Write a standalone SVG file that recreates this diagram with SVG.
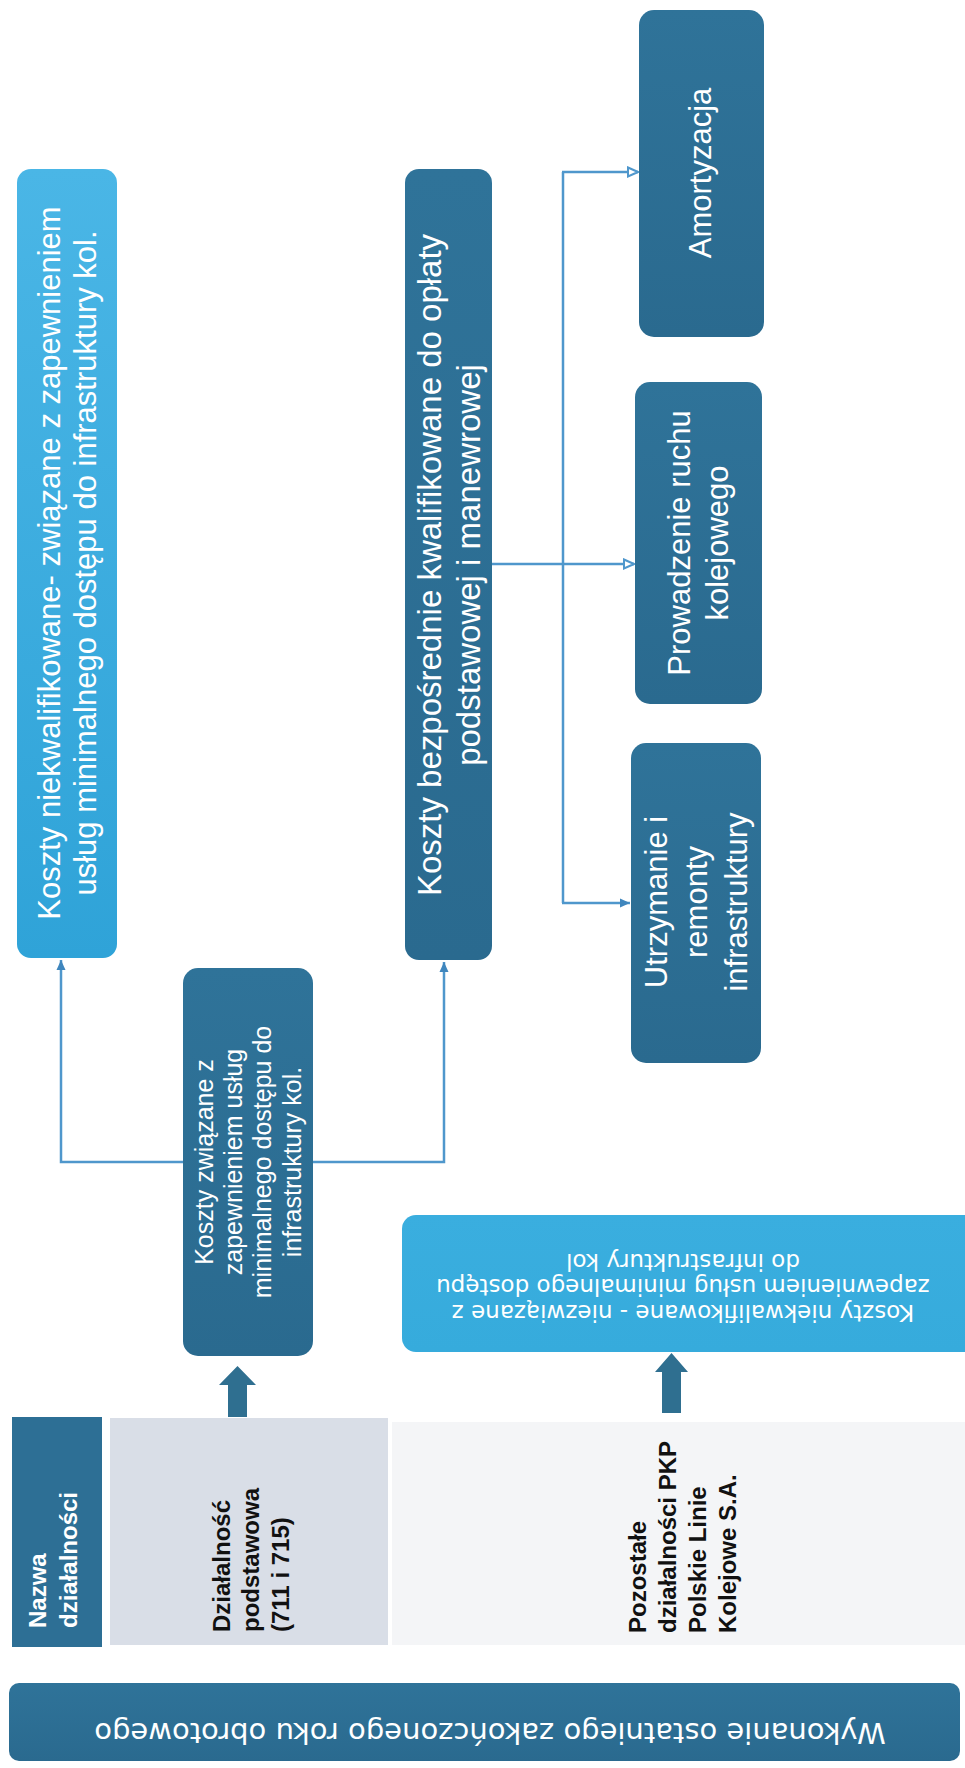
<svg xmlns="http://www.w3.org/2000/svg" width="965" height="1768" viewBox="0 0 965 1768">
  <defs>
    <linearGradient id="gLight" x1="0" y1="0" x2="0" y2="1">
      <stop offset="0" stop-color="#4ab6e6"/>
      <stop offset="1" stop-color="#2fa3d8"/>
    </linearGradient>
    <linearGradient id="gLightH" x1="0" y1="0" x2="0" y2="1">
      <stop offset="0" stop-color="#3aaedf"/>
      <stop offset="1" stop-color="#36abdc"/>
    </linearGradient>
    <linearGradient id="gDark" x1="0" y1="0" x2="0" y2="1">
      <stop offset="0" stop-color="#2f7399"/>
      <stop offset="1" stop-color="#2a6a8f"/>
    </linearGradient>
    <marker id="arrOpen" viewBox="0 0 12 12" refX="11" refY="6" markerWidth="12" markerHeight="12" markerUnits="userSpaceOnUse" orient="auto">
      <path d="M1,1.5 L11,6 L1,10.5 Z" fill="#ffffff" stroke="#4f97cc" stroke-width="2"/>
    </marker>
    <marker id="arrFill" viewBox="0 0 12 12" refX="11" refY="6" markerWidth="12" markerHeight="12" markerUnits="userSpaceOnUse" orient="auto">
      <path d="M1,1.5 L11,6 L1,10.5 Z" fill="#3f86bd"/>
    </marker>
    <style>
      .dark { fill: url(#gDark); }
      .light { fill: url(#gLight); }
      .conn { fill: none; stroke: #4f97cc; stroke-width: 2.5; }
      .wt { fill: #ffffff; font-family: "Liberation Sans", Arial, sans-serif; text-anchor: middle; dominant-baseline: central; }
      .wd { fill: #ffffff; font-family: "DejaVu Sans", Verdana, sans-serif; text-anchor: middle; dominant-baseline: central; }
      .tb { font-family: "Liberation Sans", Arial, sans-serif; font-weight: bold; font-size: 24px; }
      .thick { fill: #2f6f90; }
    </style>
  </defs>
  <rect x="0" y="0" width="965" height="1768" fill="#ffffff"/>

  <!-- Table area -->
  <g id="table">
    <rect x="12" y="1417" width="90" height="230" fill="#2d6f95"/>
    <rect x="110" y="1418" width="278" height="227" fill="#d9dee7"/>
    <rect x="392" y="1422" width="573" height="223" fill="#f4f5f7"/>
    <text class="tb" fill="#ffffff" font-size="26" transform="translate(46,1628) rotate(-90)">Nazwa</text>
    <text class="tb" fill="#ffffff" font-size="26" transform="translate(77,1628) rotate(-90)">działalności</text>
    <text class="tb" fill="#111111" transform="translate(230,1632) rotate(-90)">Działalność</text>
    <text class="tb" fill="#111111" transform="translate(259,1632) rotate(-90)">podstawowa</text>
    <text class="tb" fill="#111111" transform="translate(289,1632) rotate(-90)">(711 i 715)</text>
    <text class="tb" fill="#111111" transform="translate(646,1633) rotate(-90)">Pozostałe</text>
    <text class="tb" fill="#111111" transform="translate(676,1633) rotate(-90)">działalności PKP</text>
    <text class="tb" fill="#111111" transform="translate(706,1633) rotate(-90)">Polskie Linie</text>
    <text class="tb" fill="#111111" transform="translate(736,1633) rotate(-90)">Kolejowe S.A.</text>
  </g>

  <!-- Bottom bar -->
  <g id="bar">
    <rect x="9" y="1683" width="951" height="78" rx="10" class="dark"/>
    <text class="wd" font-size="29" transform="translate(490,1733) rotate(180)">Wykonanie ostatniego zakończonego roku obrotowego</text>
  </g>

  <!-- Thick arrows -->
  <g id="thick-arrows">
    <path class="thick" d="M228,1417 V1385 H219 L237.5,1366 L256,1385 H247 V1417 Z"/>
    <path class="thick" d="M662,1413 V1372 H655 L671.5,1353 L688,1372 H681 V1413 Z"/>
  </g>

  <!-- Connectors -->
  <g id="connectors">
    <path class="conn" d="M183,1162 H61 V960" marker-end="url(#arrFill)"/>
    <path class="conn" d="M313,1162 H444 V962" marker-end="url(#arrFill)"/>
    <path class="conn" d="M491,564 H634" marker-end="url(#arrOpen)"/>
    <path class="conn" d="M563,172 V903"/>
    <path class="conn" d="M562,172 H638" marker-end="url(#arrOpen)"/>
    <path class="conn" d="M562,903 H630" marker-end="url(#arrFill)"/>
  </g>

  <!-- Nodes -->
  <g id="n-niekwal-zwiazane">
    <rect x="17" y="169" width="100" height="789" rx="14" class="light"/>
    <text class="wt" font-size="31" transform="translate(49,563) rotate(-90)">Koszty niekwalifikowane- związane z zapewnieniem</text>
    <text class="wt" font-size="31" transform="translate(85,563) rotate(-90)">usług minimalnego dostępu do infrastruktury kol.</text>
  </g>

  <g id="n-bezposrednie">
    <rect x="405" y="169" width="87" height="791" rx="14" class="dark"/>
    <text class="wt" font-size="33" transform="translate(429,565) rotate(-90)">Koszty bezpośrednie kwalifikowane do opłaty</text>
    <text class="wt" font-size="33" transform="translate(468,565) rotate(-90)">podstawowej i manewrowej</text>
  </g>

  <g id="n-amortyzacja">
    <rect x="639" y="10" width="125" height="327" rx="15" class="dark"/>
    <text class="wt" font-size="31" transform="translate(700,173) rotate(-90)">Amortyzacja</text>
  </g>

  <g id="n-prowadzenie">
    <rect x="635" y="382" width="127" height="322" rx="15" class="dark"/>
    <text class="wt" font-size="31" transform="translate(679,543) rotate(-90)">Prowadzenie ruchu</text>
    <text class="wt" font-size="31" transform="translate(717,543) rotate(-90)">kolejowego</text>
  </g>

  <g id="n-utrzymanie">
    <rect x="631" y="743" width="130" height="320" rx="15" class="dark"/>
    <text class="wt" font-size="31" transform="translate(656,902) rotate(-90)">Utrzymanie i</text>
    <text class="wt" font-size="31" transform="translate(696,902) rotate(-90)">remonty</text>
    <text class="wt" font-size="31" transform="translate(736,902) rotate(-90)">infrastruktury</text>
  </g>

  <g id="n-koszty-zwiazane">
    <rect x="183" y="968" width="130" height="388" rx="15" class="dark"/>
    <text class="wt" font-size="25" transform="translate(204,1162) rotate(-90)">Koszty związane z</text>
    <text class="wt" font-size="25" transform="translate(233,1162) rotate(-90)">zapewnieniem usług</text>
    <text class="wt" font-size="25" transform="translate(262,1162) rotate(-90)">minimalnego dostępu do</text>
    <text class="wt" font-size="25" transform="translate(292,1162) rotate(-90)">infrastruktury kol.</text>
  </g>

  <g id="n-niekwal-niezwiazane">
    <path d="M416,1215 H965 V1352 H416 A14,14 0 0 1 402,1338 V1229 A14,14 0 0 1 416,1215 Z" fill="url(#gLightH)"/>
    <text class="wd" font-size="23" transform="translate(683,1313) rotate(180)">Koszty niekwalifikowane - niezwiązane z</text>
    <text class="wd" font-size="23" transform="translate(683,1287) rotate(180)">zapewnieniem usług minimalnego dostępu</text>
    <text class="wd" font-size="23" transform="translate(683,1262) rotate(180)">do infrastruktury kol</text>
  </g>
</svg>
